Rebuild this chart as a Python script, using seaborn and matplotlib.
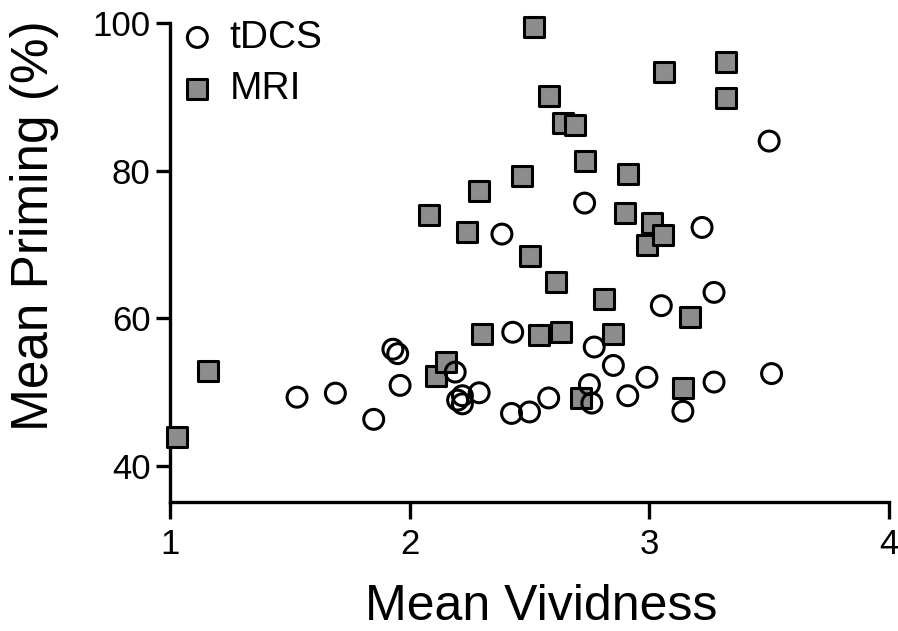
import matplotlib
matplotlib.use("Agg")
import matplotlib.pyplot as plt
import seaborn as sns
import pandas as pd

# tDCS (open circles)
tdcs_x = [1.53, 1.69, 1.85, 1.93, 1.95, 1.96, 2.19, 2.20, 2.22, 2.22, 2.29,
          2.385, 2.425, 2.43, 2.50, 2.58, 2.73, 2.75, 2.76, 2.77, 2.85, 2.91,
          2.99, 3.05, 3.14, 3.22, 3.27, 3.27, 3.50, 3.51]
tdcs_y = [49.3, 49.85, 46.3, 55.8, 55.2, 50.9, 52.7, 48.9, 48.4, 49.5, 49.9,
          71.4, 47.1, 58.1, 47.3, 49.2, 75.6, 51.0, 48.5, 56.1, 53.6, 49.5,
          52.0, 61.7, 47.4, 72.3, 63.5, 51.35, 84.0, 52.5]

# MRI (grey squares)
mri_x = [1.03, 1.16, 2.08, 2.11, 2.15, 2.24, 2.29, 2.30, 2.47, 2.50, 2.52,
         2.54, 2.58, 2.61, 2.63, 2.64, 2.69, 2.715, 2.73, 2.81, 2.85, 2.90,
         2.91, 2.99, 3.01, 3.055, 3.06, 3.14, 3.17, 3.32, 3.32]
mri_y = [43.9, 52.9, 74.0, 52.2, 54.1, 71.7, 77.2, 57.8, 79.3, 68.4, 99.4,
         57.75, 90.1, 64.9, 58.2, 86.4, 86.2, 49.2, 81.3, 62.6, 57.9, 74.2,
         79.6, 69.9, 72.9, 71.3, 93.3, 50.5, 60.1, 94.7, 89.8]

x_ticks = [1, 2, 3, 4]
y_ticks = [40, 60, 80, 100]

df_tdcs = pd.DataFrame({"vividness": tdcs_x, "priming": tdcs_y})
df_mri = pd.DataFrame({"vividness": mri_x, "priming": mri_y})

sns.set_style("ticks")
plt.rcParams["font.family"] = ["Liberation Sans", "DejaVu Sans"]
plt.rcParams["text.color"] = "black"
plt.rcParams["axes.labelcolor"] = "black"

fig = plt.figure(figsize=(8.98, 6.31), dpi=100)
ax = fig.add_axes([170 / 898, 1 - 502 / 631, 719 / 898, 479 / 631])

# squares first, circles drawn on top
sns.scatterplot(data=df_mri, x="vividness", y="priming", marker="s", s=205,
                color="#8c8c8c", edgecolor="black", linewidth=2.2,
                clip_on=False, zorder=3, ax=ax, label="MRI")
sns.scatterplot(data=df_tdcs, x="vividness", y="priming", marker="o", s=205,
                color="black", facecolor="none", edgecolor="black",
                linewidth=2.2, clip_on=False, zorder=4, ax=ax, label="tDCS")

ax.set_xlim(1, 4)
ax.set_ylim(35.1, 100)
ax.set_xticks(x_ticks)
ax.set_yticks(y_ticks)

for side in ["top", "right"]:
    ax.spines[side].set_visible(False)
for side in ["left", "bottom"]:
    ax.spines[side].set_linewidth(2.4)
    ax.spines[side].set_color("black")

ax.tick_params(axis="x", length=12, width=2.4, pad=7, labelsize=25, colors="black")
ax.tick_params(axis="y", length=10, width=2.4, pad=4, labelsize=25, colors="black")

ax.set_xlabel("Mean Vividness", fontsize=36, color="black")
ax.set_ylabel("Mean Priming (%)", fontsize=37, color="black")
ax.xaxis.set_label_coords(0.516, -0.172)
ax.yaxis.set_label_coords(-0.155, 0.576)

handles, labels = ax.get_legend_handles_labels()
order = [labels.index("tDCS"), labels.index("MRI")]
ax.legend([handles[i] for i in order], [labels[i] for i in order],
          loc="upper left", bbox_to_anchor=(0.011, 1.007), frameon=False,
          fontsize=28, handlelength=1.0, handletextpad=0.33,
          borderpad=0, borderaxespad=0, labelspacing=0.4)

fig.savefig("out.png", dpi=100)
